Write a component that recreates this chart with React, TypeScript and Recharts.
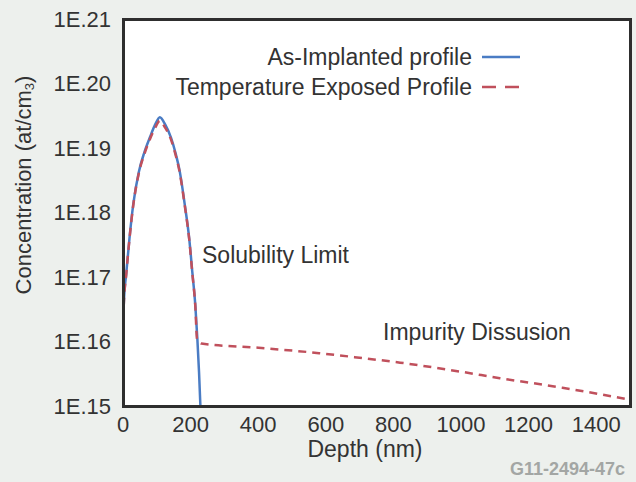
import React from 'react';
import { LineChart, Line, XAxis, YAxis, Legend, ReferenceArea } from 'recharts';

const FONT = '"Liberation Sans", Arial, Helvetica, sans-serif';
const TEXT = '#333';
const BLUE = '#4a7cc4';
const RED = '#c0505c';
const FRAME = '#2e2e2e';

const W = 636;
const H = 482;
const M_TOP = 19;
const M_RIGHT = 6;
const Y_AXIS_W = 123;
const X_AXIS_H = 76;
const FRAME_W = 3;

// As-implanted profile (depth nm, concentration at/cm3)
const blueDepth = [0, 2, 10, 19, 30, 47, 63, 80, 95, 109, 125, 142, 155, 168, 183, 196, 205, 214, 220, 225, 229];
const blueConc = [8.0e15, 3.5e16, 1.2e17, 3.9e17, 1.3e18, 4.3e18, 8.5e18, 1.48e19, 2.3e19, 3.0e19, 2.3e19, 1.45e19, 8.5e18, 4.3e18, 1.3e18, 3.9e17, 1.2e17, 3.6e16, 1.1e16, 3.3e15, 1.0e15];

// Temperature exposed profile
const redDepth = [0, 2, 10, 19, 30, 47, 63, 80, 95, 109, 125, 142, 155, 168, 183, 196, 205, 214, 219, 232, 400, 580, 700, 820, 1000, 1115, 1300, 1410, 1500];
const redConc = [8.0e15, 3.4e16, 1.15e17, 3.8e17, 1.25e18, 4.1e18, 8.0e18, 1.38e19, 2.05e19, 2.65e19, 2.05e19, 1.35e19, 8.0e18, 4.1e18, 1.25e18, 3.8e17, 1.15e17, 3.5e16, 1.1e16, 9.3e15, 8.0e15, 6.6e15, 5.6e15, 4.7e15, 3.4e15, 2.7e15, 1.92e15, 1.53e15, 1.25e15];

const xTicks = [0, 200, 400, 600, 800, 1000, 1200, 1400];
const yTicks = [1e15, 1e16, 1e17, 1e18, 1e19, 1e20, 1e21];
const yTickLabels = ['1E.15', '1E.16', '1E.17', '1E.18', '1E.19', '1E.20', '1E.21'];

const seriesNames = ['As-Implanted profile', 'Temperature Exposed Profile'];

const blueData = blueDepth.map((d, i) => ({ depth: d, conc: blueConc[i] }));
const redData = redDepth.map((d, i) => ({ depth: d, conc: redConc[i] }));

const LegendContent = (props: any) => {
  const payload = props.payload || [];
  return (
    <div style={{ fontFamily: FONT, fontSize: 23, color: TEXT, lineHeight: '30px' }}>
      {payload.map((entry: any, i: number) => (
        <div key={i} style={{ display: 'flex', justifyContent: 'flex-end', alignItems: 'center' }}>
          <span style={{ whiteSpace: 'nowrap' }}>{entry.value}</span>
          <svg width={38} height={10} style={{ marginLeft: 10 }}>
            <line
              x1={0}
              y1={5}
              x2={38}
              y2={5}
              stroke={entry.color}
              strokeWidth={2.5}
              strokeDasharray={entry.payload && entry.payload.strokeDasharray ? '14 9' : undefined}
            />
          </svg>
        </div>
      ))}
    </div>
  );
};

export default function App() {
  const plotW = W - Y_AXIS_W - M_RIGHT;
  const plotH = H - M_TOP - X_AXIS_H;
  const h = FRAME_W / 2;
  return (
    <div style={{ position: 'absolute', left: 0, top: 0, width: W, height: H, background: '#edf0ed', overflow: 'hidden' }}>
      <LineChart width={W} height={H} margin={{ top: M_TOP, right: M_RIGHT, left: 0, bottom: 0 }}>
        <ReferenceArea
          x1={0}
          x2={1500}
          y1={1e15}
          y2={1e21}
          fill="#ffffff"
          fillOpacity={1}
          ifOverflow="visible"
        />
        <XAxis
          type="number"
          dataKey="depth"
          domain={[0, 1500]}
          ticks={xTicks}
          interval={0}
          allowDataOverflow
          height={X_AXIS_H}
          axisLine={false}
          tickLine={false}
          tickSize={0}
          tickMargin={10}
          tick={{ fill: TEXT, fontSize: 22, fontFamily: FONT }}
          label={{
            content: () => (
              <text x={365} y={457} textAnchor="middle" fill={TEXT} fontSize={23} fontFamily={FONT}>
                Depth (nm)
              </text>
            ),
          }}
        />
        <YAxis
          type="number"
          scale="log"
          domain={[1e15, 1e21]}
          ticks={yTicks}
          interval={0}
          allowDataOverflow
          width={Y_AXIS_W}
          axisLine={false}
          tickLine={false}
          tickSize={0}
          tickMargin={12}
          tickFormatter={(v: number) => yTickLabels[yTicks.indexOf(v)] ?? String(v)}
          tick={{ fill: TEXT, fontSize: 22, fontFamily: FONT }}
          label={{
            content: () => (
              <text
                x={23}
                y={185}
                transform="rotate(-90 23 185)"
                textAnchor="middle"
                dominantBaseline="central"
                fill={TEXT}
                fontSize={22}
                fontFamily={FONT}
              >
                Concentration (at/cm
                <tspan fontSize={13} dy={6}>3</tspan>
                <tspan dy={-6}>)</tspan>
              </text>
            ),
          }}
        />
        <Line
          data={blueData}
          dataKey="conc"
          name={seriesNames[0]}
          type="monotone"
          stroke={BLUE}
          strokeWidth={2.5}
          dot={false}
          activeDot={false}
          isAnimationActive={false}
        />
        <Line
          data={redData}
          dataKey="conc"
          name={seriesNames[1]}
          type="monotone"
          stroke={RED}
          strokeWidth={2.5}
          strokeDasharray="8 6"
          dot={false}
          activeDot={false}
          isAnimationActive={false}
        />
        <Legend
          layout="vertical"
          align="center"
          verticalAlign="middle"
          content={LegendContent}
          wrapperStyle={{ top: 42, left: 0, width: 520, bottom: 'auto', margin: 0 }}
        />
      </LineChart>
      <div
        style={{
          position: 'absolute',
          left: Y_AXIS_W - h,
          top: M_TOP - h,
          width: plotW + FRAME_W,
          height: plotH + FRAME_W,
          boxSizing: 'border-box',
          border: `${FRAME_W}px solid ${FRAME}`,
          pointerEvents: 'none',
        }}
      />
      <svg width={W} height={H} style={{ position: 'absolute', left: 0, top: 0, pointerEvents: 'none' }}>
        <text x={202} y={263} fill={TEXT} fontSize={23} fontFamily={FONT}>Solubility Limit</text>
        <text x={383} y={340} fill={TEXT} fontSize={23} fontFamily={FONT}>Impurity Dissusion</text>
        <text x={625} y={475} textAnchor="end" fill="#a3a6a4" fontSize={18} fontWeight="bold" fontFamily={FONT}>G11-2494-47c</text>
      </svg>
    </div>
  );
}
